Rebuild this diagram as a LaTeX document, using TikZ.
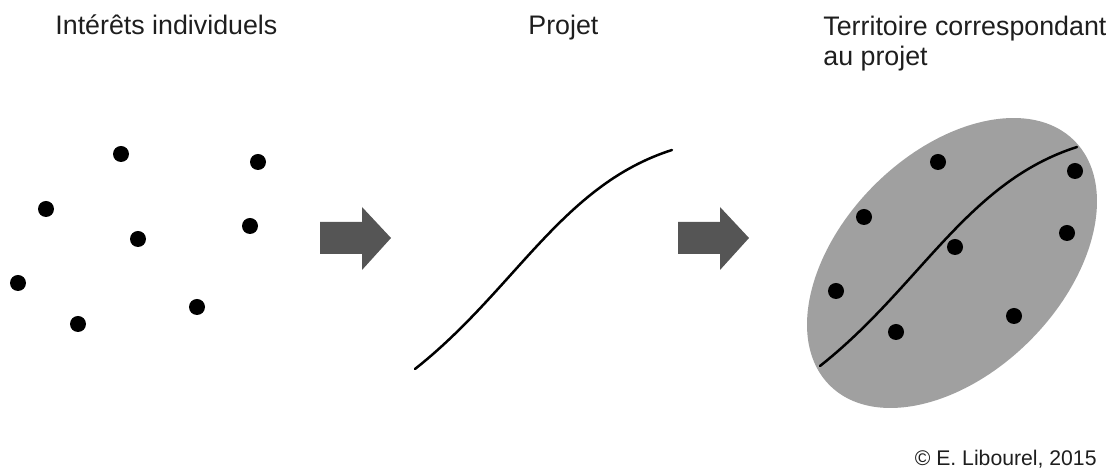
\documentclass[tikz,border=0pt]{standalone}
\usepackage{fontspec}
\setmainfont{Liberation Sans}
\definecolor{flechegris}{RGB}{85,85,85}
\definecolor{zonegris}{RGB}{160,160,160}
\definecolor{textegris}{RGB}{30,30,30}
\tikzset{
  titre/.style={anchor=base west, align=left, text=textegris, inner sep=0pt,
    font=\fontsize{13.4}{15.2}\selectfont},
  point/.style={fill=black},
  trace/.style={line width=1.25pt, black, line cap=round}
}
\newcommand{\courbeprojet}{(415,369) .. controls (515,290) and (562,185) .. (672,150)}
\begin{document}
\begin{tikzpicture}[x=0.5pt, y=-0.5pt]
    \useasboundingbox (0,0) rectangle (1110,469);

    % Titles
    \node[titre] (interets) at (55,35) {Intérêts individuels};
    \node[titre] (projet) at (528,35) {Projet};
    \node[titre, anchor=north west] (territoire) at (823,15.5) {Territoire correspondant\\au projet};

    % Individual interests (Left)
    \foreach \x/\y in {121/154, 258/162, 46/209, 138/239, 250/226, 18/283, 78/324, 197/307}
        \fill[point] (\x,\y) circle (4pt);

    % Arrows
    \foreach \a in {320, 678} {
        \fill[flechegris] (\a,222) -- (\a+42,222) -- (\a+42,207) -- (\a+71,238)
            -- (\a+42,270) -- (\a+42,254) -- (\a,254) -- cycle;
    }

    % Project (Center)
    \draw[trace] \courbeprojet;

    % Territory (Right)
    \fill[zonegris, rotate around={45:(952,263)}] (952,263) ellipse [x radius=86.5pt, y radius=55pt];
    \begin{scope}[shift={(405,-3)}]
        \draw[trace] \courbeprojet;
    \end{scope}
    \foreach \x/\y in {938/162, 1075/171, 864/217, 955/247, 1067/233, 836/291, 896/332, 1014/316}
        \fill[point] (\x,\y) circle (4pt);

    % Copyright
    \node[titre, anchor=base east, font=\fontsize{10.6}{12}\selectfont] (auteur) at (1097,466) {© E. Libourel, 2015};
\end{tikzpicture}
\end{document}
